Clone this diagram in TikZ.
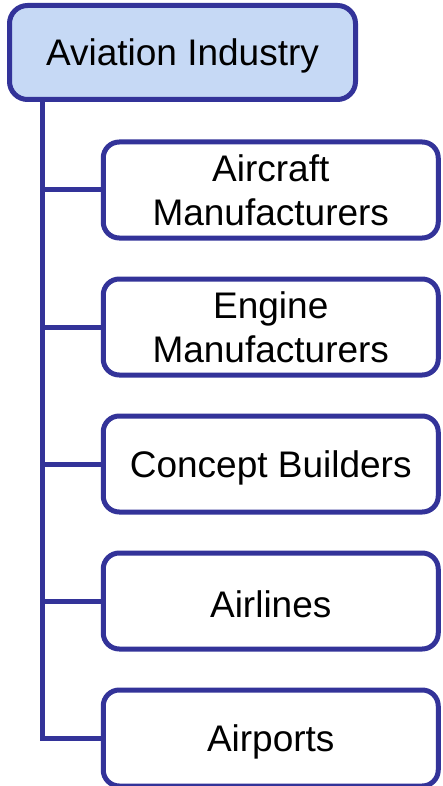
\documentclass[tikz,border=0pt]{standalone}
\usepackage{fontspec}
\setmainfont{Liberation Sans}
\definecolor{edgeblue}{RGB}{51,51,153}
\definecolor{rootfill}{RGB}{198,217,245}
\begin{document}
\begin{tikzpicture}[x=1pt,y=-1pt,
  rootbox/.style={draw=edgeblue, line width=5pt, fill=rootfill, rounded corners=18pt,
    minimum width=346pt, minimum height=94pt, inner sep=0pt, text height=34pt,
    font=\fontsize{37}{44}\selectfont},
  childbox/.style={draw=edgeblue, line width=5pt, fill=white, rounded corners=16pt,
    minimum width=335pt, minimum height=96pt, inner sep=0pt, align=center,
    font=\fontsize{37}{44}\selectfont},
  oneline/.style={text height=34pt},
  link/.style={draw=edgeblue, line width=5pt}]
\useasboundingbox (0,0) rectangle (443,786);
\node[rootbox] (root) at (182.5,52.5) {Aviation Industry};
\node[childbox] (c1) at (270.75,190) {Aircraft\\Manufacturers};
\node[childbox] (c2) at (270.75,327) {Engine\\Manufacturers};
\node[childbox, oneline] (c3) at (270.75,464) {Concept Builders};
\node[childbox, oneline] (c4) at (270.75,601) {Airlines};
\node[childbox, oneline] (c5) at (270.75,738) {Airports};
\coordinate (trunk) at (42,99.5);
\draw[link] (trunk) |- (c5.west);
\draw[link] (trunk |- c1.west) -- (c1.west);
\draw[link] (trunk |- c2.west) -- (c2.west);
\draw[link] (trunk |- c3.west) -- (c3.west);
\draw[link] (trunk |- c4.west) -- (c4.west);
\end{tikzpicture}
\end{document}
